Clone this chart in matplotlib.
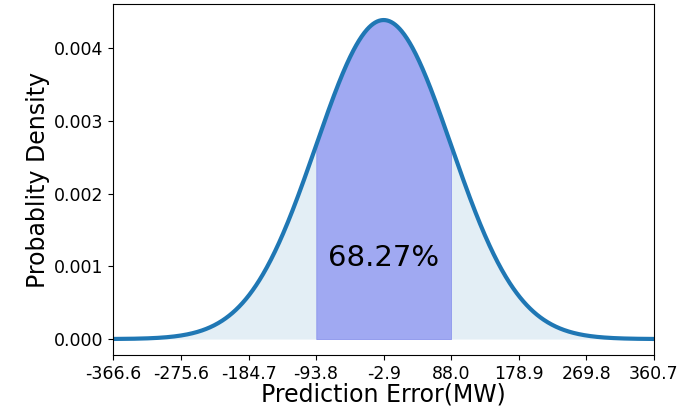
import numpy as np
import matplotlib
matplotlib.use("Agg")
import matplotlib.pyplot as plt

# Fitted error distribution (MW)
mu = -2.95
sigma = 90.9125
tick_values = [-366.6, -275.6, -184.7, -93.8, -2.9, 88.0, 178.9, 269.8, 360.7]
tick_labels = ["-366.6", "-275.6", "-184.7", "-93.8", "-2.9", "88.0", "178.9", "269.8", "360.7"]
y_ticks = [0.000, 0.001, 0.002, 0.003, 0.004]
band_label = "68.27%"

x = np.linspace(mu - 4 * sigma, mu + 4 * sigma, 800)
pdf = np.exp(-0.5 * ((x - mu) / sigma) ** 2) / (sigma * np.sqrt(2 * np.pi))

fig, ax = plt.subplots(figsize=(6.95, 4.09), dpi=100)
fig.subplots_adjust(left=0.163, right=0.941, top=0.99, bottom=0.132)

ax.fill_between(x, pdf, color="#1f77b4", alpha=0.12, linewidth=0)
inside = (x >= mu - sigma) & (x <= mu + sigma)
ax.fill_between(x[inside], pdf[inside], color="#a0a9f2", edgecolor="#8c96ec", linewidth=0.6)
ax.plot(x, pdf, color="#1f77b4", linewidth=3)

ax.text(mu, 0.00112, band_label, ha="center", va="center", fontsize=21)

ax.set_xlim(mu - 4 * sigma, mu + 4 * sigma)
ax.set_xticks(tick_values)
ax.set_xticklabels(tick_labels)
ax.set_yticks(y_ticks)
ax.set_yticklabels([f"{v:.3f}" for v in y_ticks])
ax.tick_params(labelsize=12.5)
ax.set_xlabel("Prediction Error(MW)", fontsize=17, labelpad=0)
ax.set_ylabel("Probablity Density", fontsize=17, labelpad=3)

fig.savefig("out.png", dpi=100)
